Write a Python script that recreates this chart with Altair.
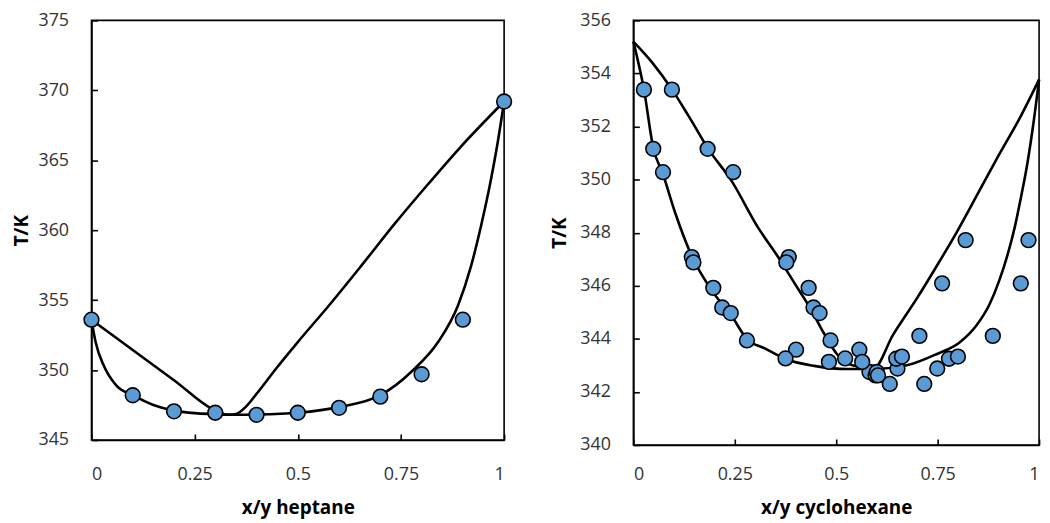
import altair as alt
import pandas as pd

# ---- heptane system: measured bubble points and model curves ----
hep_x_exp = [0.0, 0.1, 0.2, 0.3, 0.4, 0.5, 0.6, 0.7, 0.8, 0.9, 1.0]
hep_T_exp = [353.6, 348.2, 347.05, 346.95, 346.8, 346.95, 347.3, 348.1, 349.7, 353.6, 369.2]

hep_liq_x = [0.0, 0.01, 0.03, 0.06, 0.1, 0.15, 0.2, 0.25, 0.3, 0.34, 0.4, 0.5, 0.6,
             0.7, 0.776, 0.84, 0.888, 0.92, 0.944, 0.968, 0.984, 1.0]
hep_liq_T = [353.6, 352.0, 350.3, 348.9, 348.2, 347.5, 347.1, 346.92, 346.85, 346.8, 346.82,
             346.95, 347.35, 348.2, 349.9, 352.0, 354.6, 357.45, 360.3, 363.6, 366.2, 369.2]

hep_vap_x = [0.0, 0.1, 0.2, 0.3, 0.33, 0.35, 0.375, 0.4, 0.45, 0.5, 0.575, 0.655, 0.736,
             0.816, 0.896, 1.0]
hep_vap_T = [353.6, 351.43, 349.27, 347.1, 346.8, 346.85, 347.4, 348.3, 350.2, 352.0, 354.6,
             357.5, 360.5, 363.3, 366.0, 369.2]

# ---- cyclohexane system: measured T-x-y data and model curves ----
cyc_T_exp = [353.39, 351.16, 350.28, 347.08, 346.88, 345.92, 345.18, 344.97, 343.94, 343.59,
             343.26, 343.13, 342.75, 342.62, 342.30, 342.88, 343.25, 343.33, 344.11, 346.09, 347.72]
cyc_x_exp = [0.026, 0.049, 0.073, 0.144, 0.148, 0.197, 0.219, 0.240, 0.280, 0.401,
             0.375, 0.482, 0.582, 0.597, 0.632, 0.651, 0.648, 0.662, 0.705, 0.761, 0.819]
cyc_y_exp = [0.095, 0.183, 0.246, 0.383, 0.377, 0.432, 0.444, 0.459, 0.486, 0.557,
             0.522, 0.564, 0.600, 0.603, 0.717, 0.749, 0.778, 0.800, 0.886, 0.955, 0.974]

cyc_liq_x = [0.0, 0.026, 0.049, 0.073, 0.103, 0.144, 0.197, 0.242, 0.28, 0.324, 0.375, 0.446,
             0.527, 0.592, 0.674, 0.747, 0.804, 0.845, 0.878, 0.902, 0.923, 0.94, 0.955,
             0.97, 0.985, 1.0]
cyc_liq_T = [355.2, 353.4, 351.2, 350.2, 348.75, 347.12, 345.74, 344.87, 343.99, 343.64,
             343.24, 342.98, 342.86, 342.86, 343.0, 343.42, 343.86, 344.49, 345.3, 346.2,
             347.2, 348.2, 349.3, 350.5, 352.0, 353.77]

cyc_vap_x = [0.0, 0.047, 0.095, 0.136, 0.185, 0.242, 0.307, 0.356, 0.397, 0.438, 0.47, 0.503,
             0.54, 0.592, 0.64, 0.7, 0.75, 0.8, 0.85, 0.9, 0.95, 1.0]
cyc_vap_T = [355.2, 354.4, 353.4, 352.4, 351.15, 349.95, 348.2, 347.1, 346.1, 345.1, 344.2,
             343.4, 343.0, 342.88, 344.15, 345.55, 346.8, 348.1, 349.5, 350.9, 352.25, 353.77]

FONT = "Open Sans"


def curves(liq_x, liq_T, vap_x, vap_T):
    return pd.concat([
        pd.DataFrame({"comp": liq_x, "T": liq_T, "branch": "liquid"}),
        pd.DataFrame({"comp": vap_x, "T": vap_T, "branch": "vapour"}),
    ], ignore_index=True)


def panel(curve_df, point_df, x_title, y_domain, y_values, w, h, y_title_pad, x_label_pad):
    xs = alt.Scale(domain=[0, 1], nice=False, zero=False)
    ys = alt.Scale(domain=y_domain, nice=False, zero=False)
    x_axis = alt.Axis(values=[0, 0.25, 0.5, 0.75, 1],
                      labelExpr="format(datum.value, '.2~f')",
                      title=x_title, grid=False, labelPadding=x_label_pad, titlePadding=15)
    y_axis = alt.Axis(values=y_values, format="d", title="T/K", grid=False,
                      labelPadding=29, titlePadding=y_title_pad)
    lines = alt.Chart(curve_df).mark_line(
        color="black", strokeWidth=2.6, interpolate="monotone"
    ).encode(
        x=alt.X("comp:Q", scale=xs, axis=x_axis),
        y=alt.Y("T:Q", scale=ys, axis=y_axis),
        detail="branch:N",
    )
    dots = alt.Chart(point_df).mark_circle(
        size=220, color="#5B9BD5", opacity=1, stroke="black", strokeWidth=1.6
    ).encode(x="comp:Q", y="T:Q")
    return alt.layer(lines, dots).properties(width=w, height=h)


hep_points = pd.DataFrame({"comp": hep_x_exp, "T": hep_T_exp})
cyc_points = pd.DataFrame({"comp": cyc_x_exp + cyc_y_exp, "T": cyc_T_exp + cyc_T_exp})

left = panel(curves(hep_liq_x, hep_liq_T, hep_vap_x, hep_vap_T), hep_points,
             "x/y heptane", [345, 375], list(range(345, 376, 5)), 415, 422, 6, 32)
right = panel(curves(cyc_liq_x, cyc_liq_T, cyc_vap_x, cyc_vap_T), cyc_points,
              "x/y cyclohexane", [340, 356], list(range(340, 357, 2)), 408, 427, 10, 27)

chart = alt.hconcat(left, right, spacing=34).properties(
    padding={"left": 12, "top": 9, "right": 5, "bottom": 5},
    background="white",
).configure_view(
    stroke="black", strokeWidth=1.6
).configure_axis(
    domainColor="black", domainWidth=1.6,
    tickColor="black", tickWidth=1.6, tickSize=alt.ExprRef("-6"),
    labelFont=FONT, labelFontSize=18, labelColor="#333333",
    titleFont=FONT, titleFontSize=19, titleFontWeight="bold", titleColor="black",
)

chart.save("out.html", embed_options={"renderer": "svg", "actions": False})
